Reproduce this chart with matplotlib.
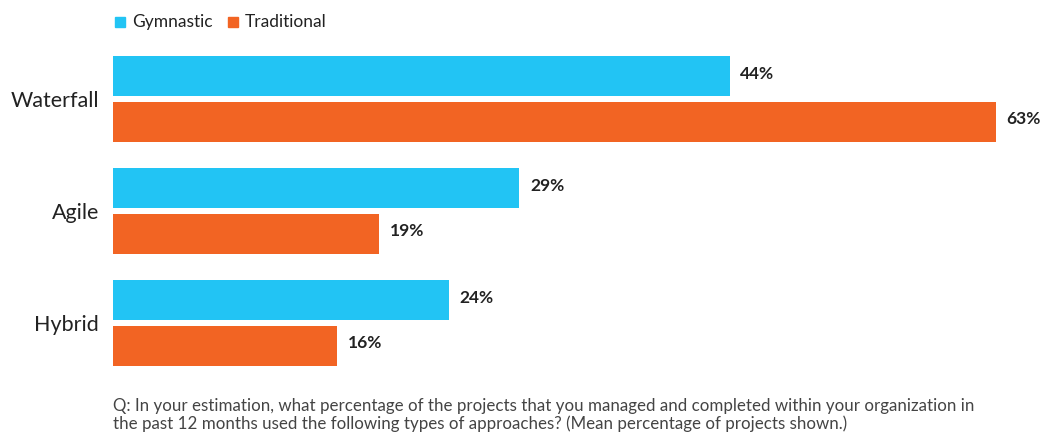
import numpy as np
import matplotlib.pyplot as plt
from matplotlib.patches import Rectangle

categories = ["Waterfall", "Agile", "Hybrid"]
gymnastic = [44, 29, 24]
traditional = [63, 19, 16]
series_names = ["Gymnastic", "Traditional"]
colors = ["#22C4F4", "#F26423"]
note = ("Q: In your estimation, what percentage of the projects that you managed and completed within your organization in\n"
        "the past 12 months used the following types of approaches? (Mean percentage of projects shown.)")

plt.rcParams["font.family"] = ["Lato", "DejaVu Sans"]

fig = plt.figure(figsize=(10.47, 4.33), dpi=100)
ax = fig.add_axes([113 / 1047, 1 - 379 / 433, 925 / 1047, 336 / 433])

y = np.arange(len(categories))
h = 0.357
off = 0.203
ax.barh(y - off, gymnastic, height=h, color=colors[0])
ax.barh(y + off, traditional, height=h, color=colors[1])

for yi, v in zip(y - off, gymnastic):
    ax.text(v + 0.75, yi - 0.02, f"{v}%", va="center", ha="left", fontsize=12.5, fontweight="bold", color="#222")
for yi, v in zip(y + off, traditional):
    ax.text(v + 0.75, yi - 0.02, f"{v}%", va="center", ha="left", fontsize=12.5, fontweight="bold", color="#222")

ax.set_xlim(0, 66)
ax.set_ylim(2.5, -0.5)
ax.set_yticks(y)
ax.set_yticklabels(categories, fontsize=15.5, color="#222")
ax.tick_params(axis="y", length=0, pad=10)
ax.set_xticks([])
for s in ax.spines.values():
    s.set_visible(False)

# legend drawn as squares + text in figure coords
lx = [115 / 1047, 228 / 1047]
for x0, name, c in zip(lx, series_names, colors):
    fig.patches.append(Rectangle((x0, 1 - 27 / 433), 10 / 1047, 10 / 433, transform=fig.transFigure, color=c))
    fig.text(x0 + 17 / 1047, 1 - 22 / 433, name, fontsize=12.5, va="center", ha="left", color="#222")

fig.text(113 / 1047, 1 - 415 / 433, note, fontsize=12.2, va="center", ha="left", color="#444",
         linespacing=1.05)

fig.savefig("out.png", dpi=100)
